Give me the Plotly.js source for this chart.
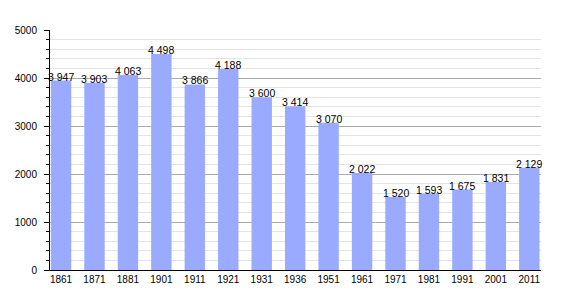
<!DOCTYPE html>
<html>
<head>
<meta charset="utf-8">
<script src="https://cdn.plot.ly/plotly-3.0.1.min.js"></script>
<style>html,body{margin:0;padding:0;background:#fff;}#chart{width:570px;height:300px;}</style>
</head>
<body>
<div id="chart"></div>
<script>
var years = ["1861","1871","1881","1901","1911","1921","1931","1936","1951","1961","1971","1981","1991","2001","2011"];
var population = [3947,3903,4063,4498,3866,4188,3600,3414,3070,2022,1520,1593,1675,1831,2129];
var yTicks = [0,1000,2000,3000,4000,5000];

function fmt(v){
  var s = String(v);
  return s.length > 3 ? s.slice(0, s.length-3) + "\u00a0" + s.slice(s.length-3) : s;
}
var labels = population.map(fmt);

var trace = {
  type: "bar",
  x: years,
  y: population,
  marker: {color: "#99aaff", line: {width: 0}},
  cliponaxis: false,
  hoverinfo: "none"
};

var annotations = years.map(function(yr, i){
  return {
    x: i, y: population[i], xref: "x", yref: "y",
    text: labels[i], showarrow: false,
    xanchor: "center", yanchor: "bottom", yshift: -4,
    font: {family: "Liberation Sans, Arial, sans-serif", size: 10.5, color: "#000"}
  };
});

var layout = {
  width: 570, height: 300,
  margin: {l: 50, r: 29, t: 30, b: 30, pad: 0},
  paper_bgcolor: "#fff",
  plot_bgcolor: "#fff",
  bargap: 0.39,
  showlegend: false,
  annotations: annotations,
  font: {family: "Liberation Sans, Arial, sans-serif", size: 10, color: "#000"},
  xaxis: {
    type: "category",
    range: [-0.33, 14.35],
    showline: true, linecolor: "#000", linewidth: 1,
    ticks: "", showgrid: false, zeroline: false,
    tickfont: {size: 10, color: "#000"}
  },
  yaxis: {
    range: [0, 5000],
    tickvals: yTicks,
    ticktext: yTicks.map(String),
    showline: true, linecolor: "#000", linewidth: 1,
    ticks: "outside", ticklen: 5, tickcolor: "#000", tickwidth: 1,
    ticklabelstandoff: 5,
    showgrid: true, gridcolor: "#aaaaaa", gridwidth: 1,
    zeroline: false,
    tickfont: {size: 10, color: "#000"},
    minor: {dtick: 200, ticks: "outside", ticklen: 3, tickcolor: "#000", showgrid: true, gridcolor: "#e4e4e4", gridwidth: 1}
  }
};

Plotly.newPlot("chart", [trace], layout, {displayModeBar: false, staticPlot: true});
</script>
</body>
</html>
